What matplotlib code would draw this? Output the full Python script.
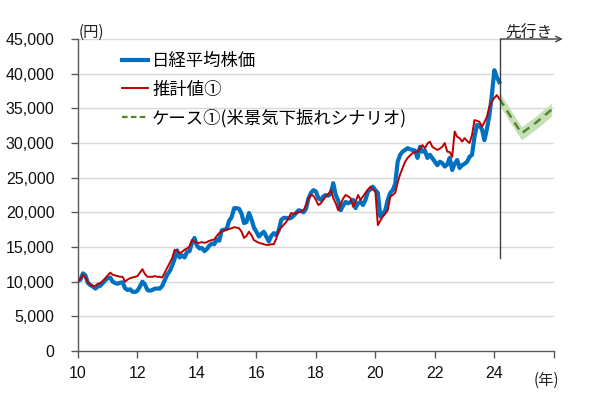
import numpy as np
import matplotlib
matplotlib.use("Agg")
import matplotlib.pyplot as plt
from matplotlib.lines import Line2D

plt.rcParams['font.family'] = ['Noto Sans CJK JP', 'DejaVu Sans']

# ---- data (monthly, Jan 2010 = 10.0) ----
start_year = 10
nikkei = [
    10100, 10300, 11200, 10900, 9800, 9500, 9300, 9000, 9300, 9400, 9800, 10200,
    10500, 10600, 10000, 9800, 9700, 9850, 9900, 9050, 8800, 8900, 8550, 8500,
    8700, 9300, 10000, 9600, 8800, 8700, 8800, 9000, 9000, 9000, 9400, 10200,
    11000, 11500, 12300, 13300, 14500, 13500, 13800, 13500, 14300, 14400, 15600, 16300,
    15200, 14800, 14850, 14400, 14700, 15200, 15500, 15400, 16100, 15900, 17400, 17500,
    17600, 18800, 19300, 20600, 20600, 20500, 19800, 18450, 18600, 19900, 19000, 17800,
    17200, 16500, 16900, 17200, 16500, 15800, 16600, 17000, 16700, 17400, 18900, 19200,
    19200, 19100, 19200, 19500, 19900, 20300, 20200, 20000, 20500, 22000, 22800, 23200,
    23000, 22050, 21800, 22300, 22500, 22400, 22700, 24200, 22500, 21700, 20300, 21000,
    21500, 21300, 21500, 21800, 20600, 21300, 21500, 21050, 21800, 23000, 23300, 23700,
    23200, 22800, 19400, 19700, 20300, 21800, 22800, 23200, 24100, 27300, 28300, 28750,
    29000, 29250, 29100, 29000, 28900, 27850, 29450, 28750, 28900, 27850, 28300, 27800,
    27300, 26800, 27300, 27100, 26600, 26900, 27850, 26100, 27000, 27550, 26400, 26800,
    27000, 27300, 28000, 28300, 30900, 32600, 32500, 32000, 30400, 32000, 34000, 36900,
    40500, 39500, 38800,
]
estimate = [
    10100, 10400, 11000, 10600, 9900, 9600, 9300, 9400, 9700, 9800, 10100, 10500,
    10900, 11300, 11000, 10900, 10800, 10700, 10700, 10000, 10300, 10500, 10600, 10700,
    10800, 11300, 11800, 11100, 10700, 10700, 10700, 10800, 10700, 10700, 10600, 11300,
    12000, 12700, 13400, 14600, 14500, 14100, 14300, 14600, 14800, 15100, 16000, 15800,
    15600, 15600, 15700, 15600, 15700, 15900, 16000, 16100, 16600, 17000, 17200, 17400,
    17500, 17600, 17700, 17850, 17800, 17700, 17200, 16300, 16600, 17200, 16700, 16000,
    15800, 15600, 15500, 15400, 15300, 15300, 15400, 15400, 16200, 17450, 17800, 18200,
    18600, 19200, 19900, 19800, 19900, 20000, 20100, 20300, 21000, 22050, 22500, 22400,
    21800, 21050, 21300, 21800, 22300, 22600, 23200, 22050, 21300, 20300, 21200, 22000,
    22500, 22300, 22050, 20800, 21500, 22500, 21800, 22300, 22800, 23300, 23700, 23300,
    23000, 18150, 18800, 19400, 19800, 20300, 22250, 22500, 22800, 24300, 25500, 26400,
    27300, 27850, 28200, 28550, 28700, 28750, 29200, 29700, 29250, 29900, 30200, 29450,
    29200, 29000, 29200, 29450, 30000, 28750, 28700, 28000, 31650, 30900, 30700, 30200,
    30700, 30300, 30000, 31150, 33300, 33200, 33050, 32350, 33000, 33800, 35200, 36000,
    36500, 36900, 36400,
]
case_t = [24.17, 24.42, 24.67, 24.92, 25.17, 25.42, 25.67, 25.92]
case_v = [36400, 34700, 33000, 31400, 32200, 33000, 33900, 34800]
case_band = 950
divider_bottom = 13400
xticks = [10, 12, 14, 16, 18, 20, 22, 24, 26]
yticks = [0, 5000, 10000, 15000, 20000, 25000, 30000, 35000, 40000, 45000]

labels = ['日経平均株価', '推計値①', 'ケース①(米景気下振れシナリオ)']

BLUE = '#0070C0'
RED = '#C00000'
GREEN = '#548235'
LGREEN = '#C5E0B4'

t = start_year + np.arange(len(nikkei)) / 12.0
t_last = t[-1] + 0.04

fig = plt.figure(figsize=(6.0, 4.07), dpi=100)
ax = fig.add_axes([0.13, 0.1376, 0.793, 0.7666])

ax.set_xlim(10, 26)
ax.set_ylim(0, 45000)

for v in yticks[1:]:
    ax.axhline(v, color='#d9d9d9', lw=1.0, zorder=0)

cv = np.array(case_v)
ax.fill_between(case_t, cv - case_band, cv + case_band, color=LGREEN, lw=0, zorder=1)
ax.plot(case_t, case_v, color=GREEN, lw=1.7, ls=(0, (3.5, 2.5)), zorder=2)

ax.plot(t, nikkei, color=BLUE, lw=3.0, zorder=3, solid_joinstyle='round')
ax.plot(t, estimate, color=RED, lw=1.4, zorder=4)

ax.plot([t_last, t_last], [divider_bottom, 45000], color='#404040', lw=1.0, zorder=5,
        clip_on=False)
ax.annotate('', xy=(26.3, 45000), xytext=(t_last, 45000),
            arrowprops=dict(arrowstyle='->', color='#404040', lw=1.0,
                            shrinkA=0, shrinkB=0), annotation_clip=False)
ax.text(25.15, 45900, '先行き', ha='center', va='center', fontsize=11.3, color='#222222')
ax.text(10.45, 45900, '(円)', ha='center', va='center', fontsize=11, color='#222222')
ax.text(25.75, -4300, '(年)', ha='center', va='center', fontsize=11, color='#222222')

for s in ['top', 'right']:
    ax.spines[s].set_visible(False)
for s in ['left', 'bottom']:
    ax.spines[s].set_color('#595959')
    ax.spines[s].set_linewidth(1.0)

ax.set_xticks(xticks)
ax.set_xticklabels([str(x) if x != 26 else '' for x in xticks],
                   family=['Liberation Sans'], fontsize=11.5)
ax.set_yticks(yticks)
ax.set_yticklabels([f'{v:,}' for v in yticks], family=['Liberation Sans'], fontsize=11.5)
ax.tick_params(axis='both', direction='out', length=5, color='#595959', width=1.0,
               labelcolor='#111111')
ax.tick_params(axis='x', pad=6)
ax.tick_params(axis='y', pad=12)

handles = [Line2D([], [], color=BLUE, lw=3.0),
           Line2D([], [], color=RED, lw=1.4),
           Line2D([], [], color=GREEN, lw=1.6, ls=(0, (2.5, 1.5)))]
leg = ax.legend(handles, labels, loc='upper left', bbox_to_anchor=(0.092, 0.958),
                frameon=False, fontsize=12.5, handlelength=1.5, handletextpad=0.25,
                labelspacing=0.6, borderaxespad=0, borderpad=0)

fig.savefig('out.png', dpi=100)
